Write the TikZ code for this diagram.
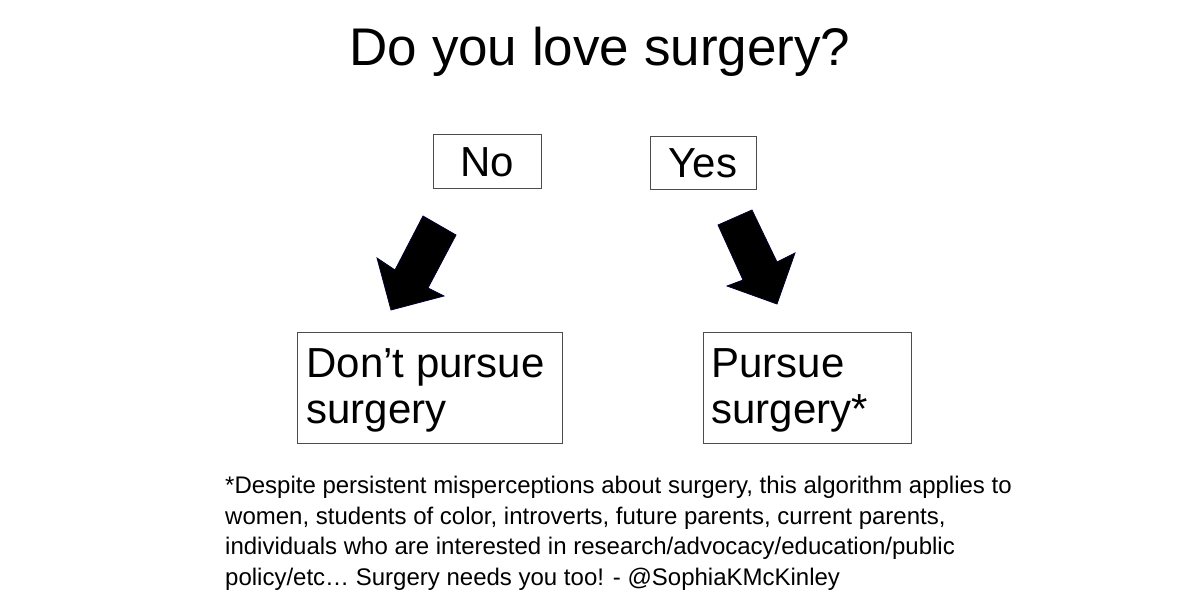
\documentclass[tikz,border=0pt]{standalone}
\usepackage{fontspec}
\setmainfont{Liberation Sans}
\usetikzlibrary{positioning}

\tikzset{
  answer/.style={draw=black!70,line width=1pt,inner sep=0pt,font=\fontsize{42}{46}\selectfont},
  outcome/.style={anchor=north west,align=left,font=\fontsize{42}{46}\selectfont},
  blockarrow/.style={fill=black,draw=blue!20!black,line width=0.8pt,line join=miter}
}

\begin{document}
\begin{tikzpicture}[x=1pt,y=-1pt]
  \useasboundingbox (0,0) rectangle (1200,601);

  % question
  \node (question) at (600,52) {\fontsize{53}{58}\selectfont Do you love surgery?};

  % answers
  \node [answer,minimum width=108,minimum height=54] (no) at (487,162) {No};
  \node [answer,minimum width=106,minimum height=53] (yes) at (703,163.5) {Yes};

  % arrows
  \draw [blockarrow] (423,216) -- (456,235) -- (428,288) -- (444,296)
    -- (391,310) -- (377,258) -- (395,270) -- cycle;
  \draw [blockarrow] (718,225) -- (752,210) -- (777,262) -- (795,253)
    -- (777,304) -- (727,286) -- (743,280) -- cycle;

  % outcomes
  \draw [draw=black!70,line width=1pt] (297,333) rectangle (562,444);
  \node [outcome] (dont) at (303,345) {Don’t pursue\\surgery};
  \draw [draw=black!70,line width=1pt] (703,333) rectangle (911,444);
  \node [outcome] (pursue) at (708,345) {Pursue\\surgery*};

  % footnote
  \node [anchor=north west,align=left,inner sep=0pt,font=\fontsize{24}{30.7}\selectfont] (note) at (225,476)
    {*Despite persistent misperceptions about surgery, this algorithm applies to\\
     women, students of color, introverts, future parents, current parents,\\
     individuals who are interested in research/advocacy/education/public\\
     policy/etc… Surgery needs you too! - @SophiaKMcKinley};
\end{tikzpicture}
\end{document}
